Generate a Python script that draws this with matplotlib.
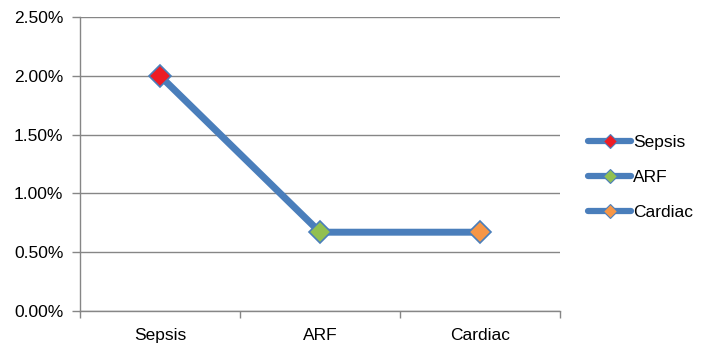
import matplotlib
matplotlib.use("Agg")
import matplotlib.pyplot as plt
from matplotlib.lines import Line2D
from matplotlib.ticker import FuncFormatter, FixedLocator

categories = ["Sepsis", "ARF", "Cardiac"]
rates = [2.00, 0.67, 0.67]          # percent
point_colors = ["#EE1C24", "#92C050", "#F79646"]
y_ticks = [0.0, 0.5, 1.0, 1.5, 2.0, 2.5]

line_blue = "#4A7EBB"
grid_grey = "#868686"

plt.rcParams["font.family"] = ["Liberation Sans", "DejaVu Sans"]

fig = plt.figure(figsize=(7.08, 3.46), dpi=100)
ax = fig.add_axes([80 / 708, 1 - 311 / 346, 480 / 708, 294 / 346])

x = list(range(len(categories)))
ax.plot(x, rates, color=line_blue, linewidth=5, solid_capstyle="round", zorder=3)
for xi, yi, c in zip(x, rates, point_colors):
    ax.plot([xi], [yi], marker="D", markersize=11, markerfacecolor=c,
            markeredgecolor=line_blue, markeredgewidth=1.2, linestyle="none", zorder=4)

ax.set_xlim(-0.5, len(categories) - 0.5)
ax.set_ylim(0, 2.5)
ax.set_yticks(y_ticks)
ax.yaxis.set_major_formatter(FuncFormatter(lambda v, _: f"{v:.2f}%"))
ax.yaxis.grid(True, color=grid_grey, linewidth=1)
ax.set_axisbelow(True)

ax.set_xticks(x)
ax.set_xticklabels(categories)
ax.xaxis.set_minor_locator(FixedLocator([i - 0.5 for i in range(len(categories) + 1)]))
ax.tick_params(axis="x", which="major", length=0, pad=12, labelsize=12.5)
ax.tick_params(axis="x", which="minor", length=5, color=grid_grey, width=1)
ax.tick_params(axis="y", length=6, color=grid_grey, width=1, pad=6, labelsize=12.5)

for side in ("top", "right"):
    ax.spines[side].set_visible(False)
for side in ("left", "bottom"):
    ax.spines[side].set_color(grid_grey)
    ax.spines[side].set_linewidth(1)

handles = [
    Line2D([0], [0], color=line_blue, linewidth=4.5, solid_capstyle="round",
           marker="D", markersize=7, markerfacecolor=c,
           markeredgecolor=line_blue, markeredgewidth=0.8)
    for c in point_colors
]
fig.legend(handles, categories, loc="center left",
           bbox_to_anchor=(588 / 708, 1 - 177.5 / 346),
           frameon=False, fontsize=12.5, handlelength=2.5, handletextpad=0.1,
           labelspacing=1.15, borderpad=0, borderaxespad=0)

fig.savefig("out.png", dpi=100)
